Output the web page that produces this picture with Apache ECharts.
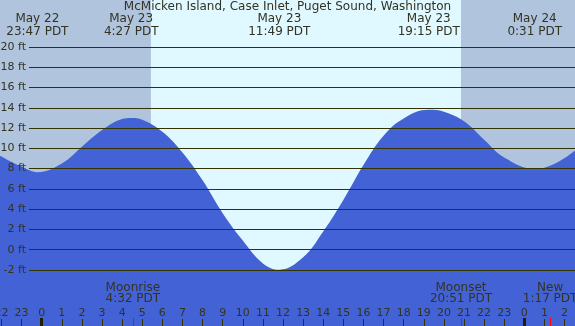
<!DOCTYPE html>
<html><head><meta charset="utf-8">
<script src="https://cdn.jsdelivr.net/npm/echarts@6/dist/echarts.min.js"></script>
<style>html,body{margin:0;padding:0;background:#b0c4de}#c{width:575px;height:326px}</style>
</head><body><div id="c"></div>
<script>
// ---------- data ----------
const chartTitle = 'McMicken Island, Case Inlet, Puget Sound, Washington';
// hours since May 23 00:00 PDT
const tideHours = [-3,-2,-1,-0.22,1,2,3,4,4.45,5,6,7,8,9,10,11,11.82,13,14,15,16,17,18,19.25,20,21,22,23,24.52,25,26,27];
const tideFeet  = [10.4,9.2,8.2,7.65,8.5,10.15,11.8,12.9,13.0,12.83,11.65,9.6,6.85,3.6,0.9,-1.35,-1.97,-0.75,1.8,4.9,8.35,11.25,12.95,13.8,13.61,12.67,10.85,9.1,7.98,8.09,9.05,10.6];
const extremeHours = [-0.2167, 4.45, 11.8167, 19.25, 24.5167];
const extremeDates = ['May 22','May 23','May 23','May 23','May 24'];
const extremeTimes = ['23:47 PDT','4:27 PDT','11:49 PDT','19:15 PDT','0:31 PDT'];
const moonHours = [4.5333, 20.85, 25.2833];
const moonNames = ['Moonrise','Moonset','New'];
const moonTimes = ['4:32 PDT','20:51 PDT','1:17 PDT'];
const sunriseHour = 5.43;
const sunsetHour = 20.85;
const midnightHours = [0, 24];
const hourTickValues = [-2,-1,0,1,2,3,4,5,6,7,8,9,10,11,12,13,14,15,16,17,18,19,20,21,22,23,24,25,26];
const yTickMin = -2, yTickMax = 20, yTickStep = 2;

// ---------- layout / style ----------
const W = 575, H = 326;
const X_MIN = -2.074, X_MAX = 26.52;
const G_TOP = 47, G_BOT = 270, G_LEFT = 29;
const pxPerFt = (G_BOT - G_TOP) / (yTickMax - yTickMin);
const yMaxFt = yTickMax + G_TOP / pxPerFt;
const yMinFt = yTickMin - (H - G_BOT) / pxPerFt;
const NIGHT = '#b0c4de', DAY = '#e0f8ff', FILL = '#4262d6', INK = '#333300', TXT = '#333322';
const FONT = '"DejaVu Sans", sans-serif';
const full = () => ({left: 0, right: 0, top: 0, bottom: 0, containLabel: false, outerBoundsMode: 'none'});

const chart = echarts.init(document.getElementById('c'), null, {renderer: 'canvas'});
const hiddenX = (gi) => ({gridIndex: gi, type: 'value', min: X_MIN, max: X_MAX, show: false, axisLine: {onZero: false}});
const hiddenY = (gi) => ({gridIndex: gi, type: 'value', min: yMinFt, max: yMaxFt, show: false, axisLine: {onZero: false}});

chart.setOption({
  animation: false,
  backgroundColor: NIGHT,
  grid: [
    full(),
    {left: G_LEFT, right: 0, top: G_TOP, height: G_BOT - G_TOP, containLabel: false, outerBoundsMode: 'none'},
    full(),
    full()
  ],
  xAxis: [
    {gridIndex: 0, type: 'value', min: X_MIN, max: X_MAX, position: 'bottom', z: 10,
     axisLine: {show: false, onZero: false}, splitLine: {show: false},
     axisTick: {show: true, inside: true, length: 7, customValues: hourTickValues, lineStyle: {color: INK, width: 1}},
     axisLabel: {show: true, inside: true, margin: 7, customValues: hourTickValues,
       formatter: v => String(((Math.round(v) % 24) + 24) % 24),
       color: TXT, fontFamily: FONT, fontSize: 11}},
    hiddenX(1),
    {gridIndex: 2, type: 'value', min: X_MIN, max: X_MAX, position: 'bottom', z: 11,
     axisLine: {show: false, onZero: false}, splitLine: {show: false}, axisLabel: {show: false},
     axisTick: {show: true, inside: true, length: 8, customValues: midnightHours, lineStyle: {color: '#221f00', width: 3}}},
    {gridIndex: 3, type: 'value', min: X_MIN, max: X_MAX, position: 'bottom', z: 11,
     axisLine: {show: false, onZero: false}, splitLine: {show: false}, axisLabel: {show: false},
     axisTick: {show: true, inside: true, length: 8, customValues: moonHours, lineStyle: {color: '#ff0000', width: 1}}}
  ],
  yAxis: [
    hiddenY(0),
    {gridIndex: 1, type: 'value', min: yTickMin, max: yTickMax, interval: yTickStep, z: 10,
     axisLine: {show: false, onZero: false}, axisTick: {show: false},
     axisLabel: {formatter: '{value} ft', margin: 3, color: TXT, fontFamily: FONT, fontSize: 11},
     splitLine: {show: true, lineStyle: {color: INK, width: 1}}},
    hiddenY(2),
    hiddenY(3)
  ],
  series: [
    {type: 'line', xAxisIndex: 0, yAxisIndex: 0, z: 1, data: [[X_MIN, yMinFt]], symbol: 'none',
     lineStyle: {width: 0}, silent: true,
     markArea: {silent: true, itemStyle: {color: DAY}, data: [[{xAxis: sunriseHour}, {xAxis: sunsetHour}]]}},
    {type: 'line', xAxisIndex: 0, yAxisIndex: 0, z: 2, smooth: 0.4, symbol: 'none',
     data: tideHours.map((h, i) => [h, tideFeet[i]]),
     lineStyle: {width: 0}, areaStyle: {color: FILL, opacity: 1, origin: 'start'}}
  ]
});

const px = h => chart.convertToPixel({xAxisIndex: 0}, h);
const txt = (text, x, y) => ({type: 'text', x: x, y: y, z: 100,
  style: {text: text, font: '12px ' + FONT, fill: TXT, align: 'center', verticalAlign: 'middle'}});
const g = [txt(chartTitle, W / 2, 7)];
extremeHours.forEach((h, i) => {
  g.push(txt(extremeDates[i], px(h), 19));
  g.push(txt(extremeTimes[i], px(h), 31.5));
});
moonHours.forEach((h, i) => {
  g.push(txt(moonNames[i], px(h), 287.5));
  g.push(txt(moonTimes[i], px(h), 299));
});
chart.setOption({graphic: g});
</script>
</body></html>
